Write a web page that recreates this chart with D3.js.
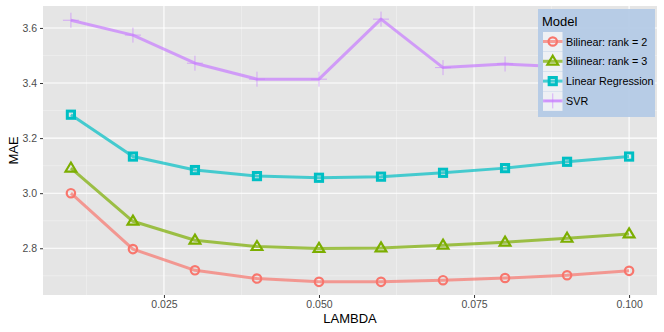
<!DOCTYPE html>
<html><head><meta charset="utf-8">
<script src="https://cdn.jsdelivr.net/npm/d3@7"></script>
<style>body{margin:0;background:#fff}svg{display:block;font-family:"Liberation Sans",Arial,sans-serif}</style>
</head><body><svg id="c" width="664" height="332"></svg>
<script>
const lambdas = [0.01,0.02,0.03,0.04,0.05,0.06,0.07,0.08,0.09,0.10];
const seriesNames = ["Bilinear: rank = 2","Bilinear: rank = 3","Linear Regression","SVR"];
const bilinear2 = [3.000,2.797,2.720,2.690,2.678,2.678,2.684,2.692,2.702,2.718];
const bilinear3 = [3.091,2.898,2.829,2.806,2.799,2.801,2.811,2.822,2.836,2.852];
const linreg    = [3.285,3.133,3.084,3.062,3.056,3.060,3.074,3.091,3.114,3.133];
const svr       = [3.628,3.574,3.472,3.414,3.414,3.632,3.456,3.469,3.458,3.484];
const xTicks = [0.025,0.050,0.075,0.100];
const yTicks = [2.8,3.0,3.2,3.4,3.6];
const colors = ["#F8766D","#7CAE00","#00BFC4","#C77CFF"];
const shapes = ["circle","triangle","square","plus"];

const allVals = [bilinear2,bilinear3,linreg,svr];
const svg = d3.select("#c");
const P = {l:43,r:657,t:6,b:295};
const xr = [0.01,0.10], xe=(xr[1]-xr[0])*0.05;
const ymin = d3.min(allVals.flat()), ymax = d3.max(allVals.flat()), ye=(ymax-ymin)*0.05;
const x = d3.scaleLinear().domain([xr[0]-xe,xr[1]+xe]).range([P.l,P.r]);
const y = d3.scaleLinear().domain([ymin-ye,ymax+ye]).range([P.b,P.t]);

svg.append("rect").attr("x",P.l).attr("y",P.t).attr("width",P.r-P.l).attr("height",P.b-P.t).attr("fill","#E5E5E5");
const xMinor = [0.0125,0.0375,0.0625,0.0875];
const yMinor = [2.7,2.9,3.1,3.3,3.5];
const g = svg.append("g");
xMinor.forEach(v=>g.append("line").attr("x1",x(v)).attr("x2",x(v)).attr("y1",P.t).attr("y2",P.b).attr("stroke","#F2F2F2").attr("stroke-width",0.6));
yMinor.forEach(v=>g.append("line").attr("y1",y(v)).attr("y2",y(v)).attr("x1",P.l).attr("x2",P.r).attr("stroke","#F2F2F2").attr("stroke-width",0.6));
xTicks.forEach(v=>g.append("line").attr("x1",x(v)).attr("x2",x(v)).attr("y1",P.t).attr("y2",P.b).attr("stroke","#fff").attr("stroke-width",1.1));
yTicks.forEach(v=>g.append("line").attr("y1",y(v)).attr("y2",y(v)).attr("x1",P.l).attr("x2",P.r).attr("stroke","#fff").attr("stroke-width",1.1));

const xa = svg.append("g").attr("transform",`translate(0,${P.b})`)
  .call(d3.axisBottom(x).tickValues(xTicks).tickFormat(d3.format(".3f")).tickSize(3).tickPadding(3));
const ya = svg.append("g").attr("transform",`translate(${P.l},0)`)
  .call(d3.axisLeft(y).tickValues(yTicks).tickFormat(d3.format(".1f")).tickSize(3).tickPadding(3));
[xa,ya].forEach(a=>{a.select(".domain").remove();a.selectAll("line").attr("stroke","#333").attr("stroke-width",1);
  a.selectAll("text").attr("fill","#4D4D4D").style("font-size","10.5px").style("font-family","Liberation Sans, Arial");});
svg.append("text").attr("x",(P.l+P.r)/2).attr("y",323).attr("text-anchor","middle").style("font-size","13px").text("LAMBDA");
svg.append("text").attr("transform",`translate(18,${(P.t+P.b)/2}) rotate(-90)`).attr("text-anchor","middle").style("font-size","13px").text("MAE");

function drawShape(sel,shape,cx,cy,col){
  if(shape==="circle") sel.append("circle").attr("cx",cx).attr("cy",cy).attr("r",4.2).attr("fill","none").attr("stroke",col).attr("stroke-width",2.2);
  else if(shape==="square") sel.append("rect").attr("x",cx-3.6).attr("y",cy-3.6).attr("width",7.2).attr("height",7.2).attr("fill","none").attr("stroke",col).attr("stroke-width",3);
  else if(shape==="triangle") sel.append("path").attr("d",`M${cx},${cy-5.6}L${cx+5.4},${cy+3.4}L${cx-5.4},${cy+3.4}Z`).attr("fill","none").attr("stroke",col).attr("stroke-width",2.2).attr("stroke-linejoin","miter");
  else sel.append("path").attr("d",`M${cx-8},${cy}H${cx+8}M${cx},${cy-7.5}V${cy+7.5}`).attr("stroke",col).attr("stroke-width",0.9).attr("stroke-opacity",0.65);
}

const line = d3.line().x((d,i)=>x(lambdas[i])).y(d=>y(d));
allVals.forEach((vals,k)=>{
  svg.append("path").attr("d",line(vals)).attr("fill","none").attr("stroke",colors[k]).attr("stroke-width",3).attr("stroke-opacity",0.7).attr("stroke-linejoin","round");
  const pg = svg.append("g");
  vals.forEach((v,i)=>drawShape(pg,shapes[k],x(lambdas[i]),y(v),colors[k]));
});

const L = svg.append("g");
L.append("rect").attr("x",538).attr("y",9).attr("width",117).attr("height",108).attr("fill","#B4CAE6").attr("fill-opacity",0.95);
L.append("text").attr("x",542).attr("y",26).style("font-size","13px").attr("fill","#000").text("Model");
seriesNames.forEach((n,k)=>{
  const cy = 41.5 + k*19.8;
  L.append("rect").attr("x",543).attr("y",cy-9.5).attr("width",19.5).attr("height",19.5).attr("fill","#EEF0F4");
  L.append("line").attr("x1",543).attr("x2",562.5).attr("y1",cy).attr("y2",cy).attr("stroke",colors[k]).attr("stroke-width",3).attr("stroke-opacity",0.7);
  drawShape(L,shapes[k],552.75,cy,colors[k]);
  L.append("text").attr("x",566).attr("y",cy+4).style("font-size","10.8px").attr("fill","#000").text(n);
});
</script></body></html>
